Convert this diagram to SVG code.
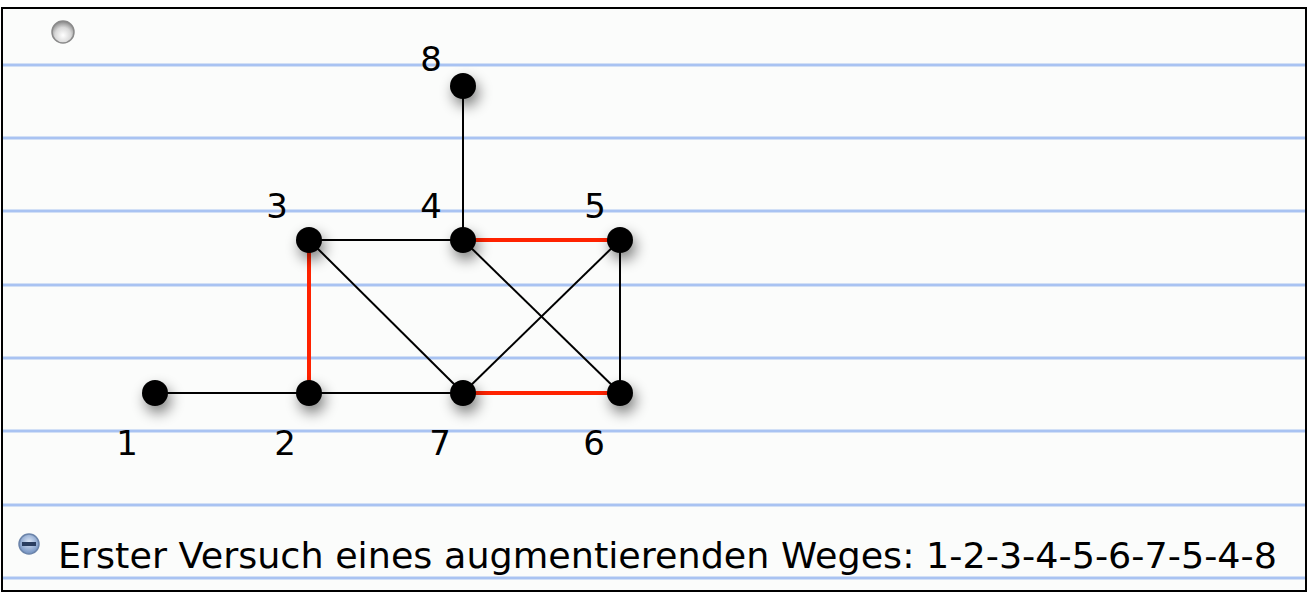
<svg xmlns="http://www.w3.org/2000/svg" width="1309" height="596" viewBox="0 0 1309 596">
<defs>
<filter id="sh" x="-150%" y="-150%" width="400%" height="400%">
<feGaussianBlur in="SourceAlpha" stdDeviation="7"/>
<feOffset dx="3" dy="7" result="b"/>
<feComponentTransfer><feFuncA type="linear" slope="0.5"/></feComponentTransfer>
<feMerge><feMergeNode/><feMergeNode in="SourceGraphic"/></feMerge>
</filter>
<radialGradient id="gray" cx="0.5" cy="0.65" r="0.6">
<stop offset="0" stop-color="#ffffff"/><stop offset="0.6" stop-color="#d8d8d8"/><stop offset="1" stop-color="#909090"/>
</radialGradient>
<radialGradient id="blue" cx="0.5" cy="0.4" r="0.6">
<stop offset="0" stop-color="#dbe6f7"/><stop offset="1" stop-color="#6f8fbf"/>
</radialGradient>
<style>
.rule{stroke:#a9c3f2;stroke-width:3}
.e{stroke:#000;stroke-width:2;fill:none}
.r{stroke:#ff2200;stroke-width:4;fill:none}
.n{fill:#000;filter:url(#sh)}
.lbl{font-family:"DejaVu Sans","Liberation Sans",sans-serif;font-size:34px;fill:#000;text-anchor:middle}
.cap{font-family:"DejaVu Sans","Liberation Sans",sans-serif;font-size:35px;fill:#000}
</style>
</defs>
<rect x="0" y="0" width="1309" height="596" fill="#ffffff"/>
<rect x="2" y="8" width="1304" height="583" fill="#fbfcfb" stroke="#000" stroke-width="2"/>
<g id="rules">
<line class="rule" x1="3" y1="65" x2="1305" y2="65"/>
<line class="rule" x1="3" y1="138" x2="1305" y2="138"/>
<line class="rule" x1="3" y1="211" x2="1305" y2="211"/>
<line class="rule" x1="3" y1="285" x2="1305" y2="285"/>
<line class="rule" x1="3" y1="358" x2="1305" y2="358"/>
<line class="rule" x1="3" y1="431" x2="1305" y2="431"/>
<line class="rule" x1="3" y1="505" x2="1305" y2="505"/>
<line class="rule" x1="3" y1="578" x2="1305" y2="578"/>
</g>
<circle cx="63" cy="32" r="11" fill="url(#gray)" stroke="#8a8a8a" stroke-width="1.5"/>
<g id="connectors">
<line class="e" x1="155" y1="393" x2="309" y2="393"/>
<line class="e" x1="309" y1="393" x2="463" y2="393"/>
<line class="r" x1="463" y1="393" x2="620" y2="393"/>
<line class="e" x1="309" y1="240" x2="463" y2="240"/>
<line class="r" x1="463" y1="240" x2="620" y2="240"/>
<line class="r" x1="309" y1="240" x2="309" y2="393"/>
<line class="e" x1="309" y1="240" x2="463" y2="393"/>
<line class="e" x1="463" y1="240" x2="620" y2="393"/>
<line class="e" x1="463" y1="393" x2="620" y2="240"/>
<line class="e" x1="620" y1="240" x2="620" y2="393"/>
<line class="e" x1="463" y1="86" x2="463" y2="240"/>
</g>
<g id="n1"><circle class="n" cx="155" cy="393" r="13"/><text class="lbl" x="127" y="455">1</text></g>
<g id="n2"><circle class="n" cx="309" cy="393" r="13"/><text class="lbl" x="285" y="455">2</text></g>
<g id="n7"><circle class="n" cx="463" cy="393" r="13"/><text class="lbl" x="440" y="455">7</text></g>
<g id="n6"><circle class="n" cx="620" cy="393" r="13"/><text class="lbl" x="594" y="455">6</text></g>
<g id="n3"><circle class="n" cx="309" cy="240" r="13"/><text class="lbl" x="277" y="218">3</text></g>
<g id="n4"><circle class="n" cx="463" cy="240" r="13"/><text class="lbl" x="431" y="218">4</text></g>
<g id="n5"><circle class="n" cx="620" cy="240" r="13"/><text class="lbl" x="595" y="218">5</text></g>
<g id="n8"><circle class="n" cx="463" cy="86" r="13"/><text class="lbl" x="431" y="71">8</text></g>
<g id="caption">
<circle cx="29" cy="544" r="10" fill="url(#blue)" stroke="#6b84aa" stroke-width="1.5"/>
<rect x="22" y="542" width="14" height="4" fill="#2a3e60"/>
<text class="cap" x="58" y="568" textLength="1219" lengthAdjust="spacingAndGlyphs">Erster Versuch eines augmentierenden Weges: 1-2-3-4-5-6-7-5-4-8</text>
</g>
</svg>
